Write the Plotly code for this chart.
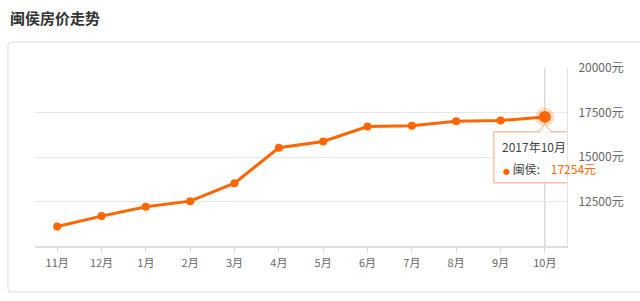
import plotly.graph_objects as go

# ---- data ----
months = ["11月", "12月", "1月", "2月", "3月", "4月", "5月", "6月", "7月", "8月", "9月", "10月"]
prices = [11100, 11680, 12210, 12520, 13530, 15520, 15870, 16710, 16750, 17010, 17050, 17254]
y_ticks = [12500, 15000, 17500, 20000]
y_range = [10000, 20000]
title_text = "闽侯房价走势"
tip_title = "2017年10月"
series_name = "闽侯"

ORANGE = "#ff6600"
FONT = "Noto Sans CJK SC"

fig = go.Figure()

fig.add_trace(go.Scatter(
    x=months, y=prices, mode="lines+markers",
    line=dict(color=ORANGE, width=3),
    marker=dict(size=8, color=ORANGE),
    showlegend=False))

# highlighted last point with halo
fig.add_trace(go.Scatter(
    x=[months[-1]], y=[prices[-1]], mode="markers",
    marker=dict(size=19, color="rgba(255,102,0,0.22)", line=dict(width=0)),
    hoverinfo="skip", showlegend=False))
fig.add_trace(go.Scatter(
    x=[months[-1]], y=[prices[-1]], mode="markers",
    marker=dict(size=12, color=ORANGE),
    hoverinfo="skip", showlegend=False))

last_idx = len(months) - 1

shapes = [
    # outer panel (rounded)
    dict(type="path", xref="paper", yref="paper", layer="below",
         path="M -0.0508,-0.2416 L -0.0508,1.129 Q -0.0508,1.146 -0.044,1.146 L 1.20,1.146 L 1.20,-0.2584 L -0.044,-0.2584 Q -0.0508,-0.2584 -0.0508,-0.2416 Z",
         line=dict(color="#dcdcdc", width=1), fillcolor="rgba(0,0,0,0)"),
    # crosshair
    dict(type="line", xref="x", yref="y domain", x0=last_idx, x1=last_idx, y0=0, y1=1,
         line=dict(color="#c8c8c8", width=1), layer="below"),
    # tooltip box
    dict(type="rect", xref="x", yref="y", xsizemode="pixel", ysizemode="pixel",
         xanchor=last_idx, yanchor=prices[-1],
         x0=-51, x1=55, y0=-15, y1=-66,
         fillcolor="rgba(255,255,255,0.88)", line=dict(color="#f7a374", width=1), layer="above"),
    # tooltip caret
    dict(type="path", xref="x", yref="y", xsizemode="pixel", ysizemode="pixel",
         xanchor=last_idx, yanchor=prices[-1],
         path="M -7,-15.6 L 0,-7.5 L 7,-15.6",
         fillcolor="rgba(255,255,255,1)", line=dict(color="#f7a374", width=1), layer="above"),
]

annotations = [
    dict(text=f"<b>{title_text}</b>", xref="paper", yref="paper",
         x=-0.0508, y=1.0, yshift=51, xanchor="left", yanchor="middle",
         showarrow=False, font=dict(family=FONT, size=15, color="#333333")),
    dict(text=tip_title, xref="x", yref="y", x=last_idx, y=prices[-1],
         xshift=-45, yshift=-30, xanchor="left", yanchor="middle", showarrow=False,
         font=dict(family=FONT, size=12, color="#444444")),
    dict(text=(f"<span style='color:{ORANGE};font-size:7px'>●</span> {series_name}:    "
               f"<span style='color:{ORANGE}'>{prices[-1]}元</span>"),
         xref="x", yref="y", x=last_idx, y=prices[-1],
         xshift=-44, yshift=-52, xanchor="left", yanchor="middle", showarrow=False,
         font=dict(family=FONT, size=12, color="#444444")),
]

fig.update_layout(
    width=640, height=301,
    margin=dict(l=35, r=73, t=68, b=55),
    paper_bgcolor="white", plot_bgcolor="white",
    font=dict(family=FONT, color="#666666"),
    shapes=shapes, annotations=annotations,
    xaxis=dict(type="category", categoryorder="array", categoryarray=months,
               range=[-0.5, len(months) - 0.5],
               showgrid=False, zeroline=False,
               showline=True, linecolor="#dddddd", linewidth=2,
               ticks="outside", ticklen=5, tickcolor="#dddddd", tickwidth=1,
               tickfont=dict(family=FONT, size=11, color="#666666"),
               ticklabelstandoff=1, fixedrange=True),
    yaxis=dict(side="right", range=y_range, tickvals=y_ticks,
               ticktext=[f"{v}元" for v in y_ticks],
               showgrid=True, gridcolor="#e8e8e8", gridwidth=1, zeroline=False,
               showline=True, linecolor="#e2e2e2", linewidth=1,
               ticks="", tickfont=dict(family=FONT, size=12, color="#666666"),
               ticklabelstandoff=8, fixedrange=True),
    showlegend=False,
)

fig.write_html("out.html")
